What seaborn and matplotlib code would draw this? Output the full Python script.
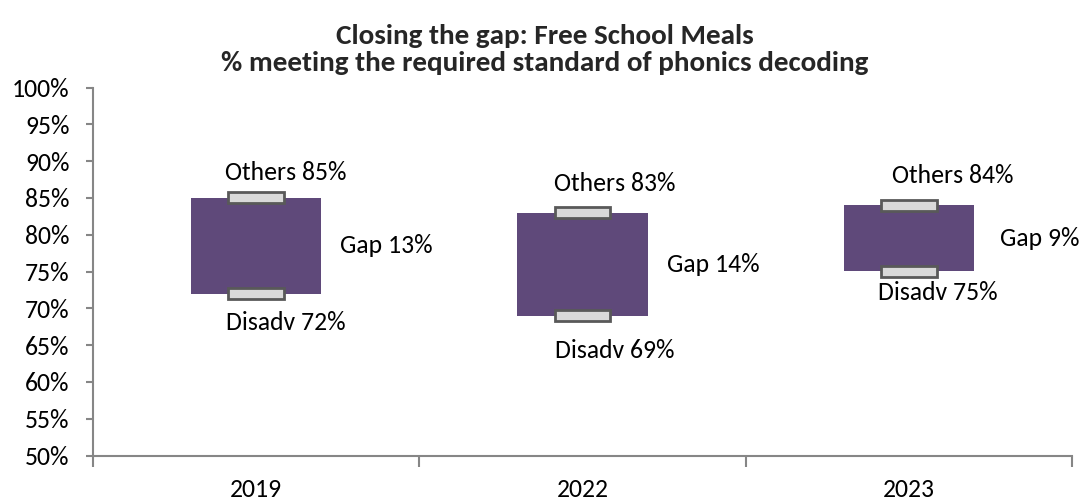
import matplotlib
matplotlib.use("Agg")
import matplotlib.pyplot as plt
import seaborn as sns
import pandas as pd

# Data: % of pupils meeting the phonics decoding standard
years = ["2019", "2022", "2023"]
others = [85, 83, 84]
disadv = [72, 69, 75]
gap = [o - d for o, d in zip(others, disadv)]
y_ticks = list(range(50, 101, 5))

# Label placement (x offset in category units, y offset in % points)
others_dx = [0.09, 0.10, 0.135]
others_dy = [3.5, 3.9, 4.0]
disadv_dx = [0.09, 0.10, 0.09]
disadv_dy = [-3.9, -4.7, -2.9]
gap_dx = [0.40, 0.40, 0.40]

PURPLE = "#5f497a"
CAP_FILL = "#d9d9d9"
CAP_EDGE = "#595959"
AXIS_GREY = "#868686"
FS = 18.5
TITLE_FS = 21

sns.set_theme(style="white")
plt.rcParams["font.family"] = ["Carlito", "DejaVu Sans"]

df = pd.DataFrame({"year": years, "others": others, "disadv": disadv, "gap": gap})

fig = plt.figure(figsize=(10.8, 5.01), dpi=100)
ax = fig.add_axes([93 / 1080, 1 - 455.5 / 501, (1072 - 93) / 1080, (455.5 - 87.5) / 501])

# Floating bar from the disadvantaged rate up to the others rate
sns.barplot(data=df, x="year", y="gap", bottom=df["disadv"], color=PURPLE,
            width=0.4, saturation=1, linewidth=0, ax=ax)

# Small caps marking each end of the bar
cap_h = 1.5
for col in ["others", "disadv"]:
    sns.barplot(x=df["year"], y=[cap_h] * len(df), bottom=df[col] - cap_h / 2,
                color=CAP_FILL, width=0.17, saturation=1,
                edgecolor=CAP_EDGE, linewidth=2, ax=ax)

for i in range(len(years)):
    ax.text(i + others_dx[i], others[i] + others_dy[i], f"Others {others[i]}%",
            ha="center", va="center", fontsize=FS, color="black")
    ax.text(i + disadv_dx[i], disadv[i] + disadv_dy[i], f"Disadv {disadv[i]}%",
            ha="center", va="center", fontsize=FS, color="black")
    ax.text(i + gap_dx[i], (others[i] + disadv[i]) / 2, f"Gap {gap[i]}%",
            ha="center", va="center", fontsize=FS, color="black")

ax.set_ylim(50, 100)
ax.set_xlim(-0.5, len(years) - 0.5)
ax.set_yticks(y_ticks)
ax.set_yticklabels([f"{t}%" for t in y_ticks], fontsize=FS)
ax.set_xticks(range(len(years)))
ax.set_xticklabels(years, fontsize=FS)
ax.set_xticks([i - 0.5 for i in range(len(years) + 1)], minor=True)
ax.set_xlabel("")
ax.set_ylabel("")

for side in ["top", "right"]:
    ax.spines[side].set_visible(False)
for side in ["left", "bottom"]:
    ax.spines[side].set_color(AXIS_GREY)
    ax.spines[side].set_linewidth(1.5)

ax.tick_params(axis="y", which="major", direction="out", length=5, width=1.5,
               color=AXIS_GREY, left=True, pad=12, labelcolor="black")
ax.tick_params(axis="x", which="major", length=0, pad=16, labelcolor="black")
ax.tick_params(axis="x", which="minor", direction="out", length=8, width=1.5,
               color=AXIS_GREY, bottom=True)

fig.text(545 / 1080, 1 - 36 / 501, "Closing the gap: Free School Meals",
         ha="center", va="center", fontsize=TITLE_FS, fontweight="bold")
fig.text(545 / 1080, 1 - 63 / 501, "% meeting the required standard of phonics decoding",
         ha="center", va="center", fontsize=TITLE_FS, fontweight="bold")

fig.savefig("out.png", dpi=100)
